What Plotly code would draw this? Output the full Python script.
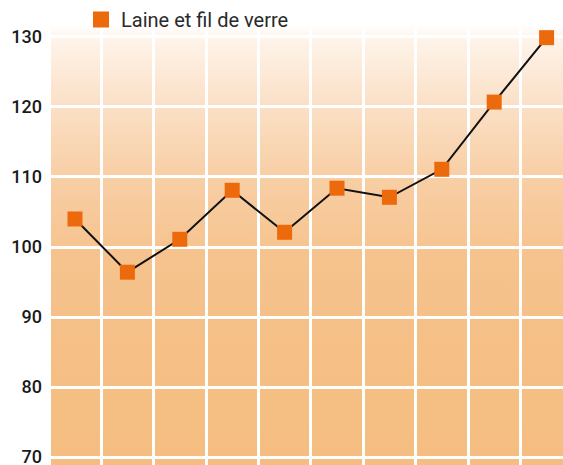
import base64
import plotly.graph_objects as go

# ---- data ----
categories = ["1", "2", "3", "4", "5", "6", "7", "8", "9", "10"]
values = [104.0, 96.4, 101.1, 108.1, 102.1, 108.4, 107.1, 111.1, 120.7, 129.9]
series_name = "Laine et fil de verre"
y_ticks = [70, 80, 90, 100, 110, 120, 130]

W, H = 563, 465
ML, MR, MT, MB = 51, 0, 25, 0

ORANGE = "#EC690C"

# vertical gradient background (white -> peach)
svg = (
    '<svg xmlns="http://www.w3.org/2000/svg" width="10" height="440" viewBox="0 0 10 440" '
    'preserveAspectRatio="none"><defs><linearGradient id="g" x1="0" y1="0" x2="0" y2="1">'
    '<stop offset="0" stop-color="#ffffff"/>'
    '<stop offset="0.03" stop-color="#fef4ea"/>'
    '<stop offset="0.18" stop-color="#fbe0c6"/>'
    '<stop offset="0.34" stop-color="#f8cfa6"/>'
    '<stop offset="0.52" stop-color="#f6c38e"/>'
    '<stop offset="0.75" stop-color="#f5bf85"/>'
    '<stop offset="1" stop-color="#f5bd81"/>'
    '</linearGradient></defs><rect x="0" y="0" width="10" height="440" fill="url(#g)"/></svg>'
)
src = "data:image/svg+xml;base64," + base64.b64encode(svg.encode()).decode()

fig = go.Figure()
fig.add_trace(go.Scatter(
    x=categories, y=values, name=series_name,
    mode="lines+markers",
    line=dict(color="#111111", width=2),
    marker=dict(symbol="square", size=15, color=ORANGE),
    showlegend=False, legendgroup="s",
))
# legend entry (marker only, like the reference key)
fig.add_trace(go.Scatter(
    x=[None], y=[None], name=series_name, mode="markers",
    marker=dict(symbol="square", size=19, color=ORANGE),
    showlegend=True, legendgroup="s",
))

fig.add_layout_image(dict(
    source=src, xref="paper", yref="paper", x=0, y=1,
    sizex=1, sizey=1, sizing="stretch", xanchor="left", yanchor="top",
    layer="below",
))

fig.update_layout(
    width=W, height=H,
    margin=dict(l=ML, r=MR, t=MT, b=MB, pad=0, autoexpand=False),
    paper_bgcolor="white",
    plot_bgcolor="rgba(0,0,0,0)",
    font=dict(family="Roboto", color="#1a1a1a"),
    showlegend=True,
    legend=dict(
        xref="container", yref="container",
        x=81 / W, y=1 + 1.5 / H,
        xanchor="left", yanchor="top",
        bgcolor="rgba(0,0,0,0)",
        font=dict(family="Roboto", size=20, color="#2a2a2a"),
        itemsizing="trace",
    ),
    xaxis=dict(
        type="category",
        categoryorder="array", categoryarray=categories,
        range=[-0.458, 9.313],
        tickson="boundaries",
        showticklabels=False, ticks="",
        showgrid=True, gridcolor="white", gridwidth=2.5,
        zeroline=False, showline=False, fixedrange=True,
        automargin=False,
    ),
    yaxis=dict(
        range=[68.86, 131.71],
        tickvals=y_ticks, ticktext=[str(v) for v in y_ticks],
        ticks="", ticklabelstandoff=8, ticklabeloverflow="allow",
        tickfont=dict(family="Roboto", size=18, color="#1a1a1a", weight=500),
        showgrid=True, gridcolor="white", gridwidth=2.5,
        zeroline=False, showline=False, fixedrange=True,
        automargin=False,
    ),
)

fig.write_html(
    "out.html",
    config={"displayModeBar": False},
    post_script="document.body.style.margin='0';document.body.style.overflow='hidden';",
)
